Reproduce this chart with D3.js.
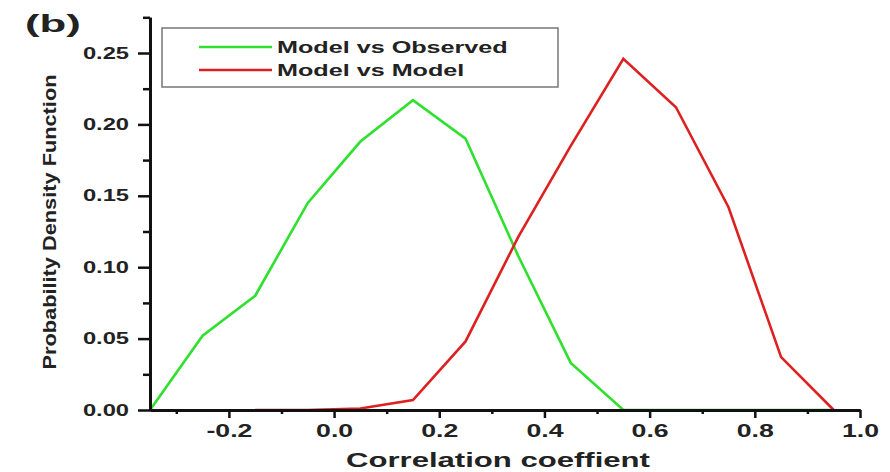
<!DOCTYPE html>
<html>
<head>
<meta charset="utf-8">
<script src="https://cdn.jsdelivr.net/npm/d3@7"></script>
<style>
  body { margin: 0; background: #fff; }
  text { font-family: "Liberation Sans", Arial, sans-serif; font-weight: bold; fill: #222; }
</style>
</head>
<body>
<svg id="chart"></svg>
<script>
// data
const xBins = [-0.35, -0.25, -0.15, -0.05, 0.05, 0.15, 0.25, 0.35, 0.45, 0.55, 0.65, 0.75, 0.85, 0.95];
const obsPdf = [0, 0.052, 0.080, 0.145, 0.188, 0.217, 0.190, 0.108, 0.033, 0, 0, 0, 0, 0];
const modelBins = [-0.15, -0.05, 0.05, 0.15, 0.25, 0.35, 0.45, 0.55, 0.65, 0.75, 0.85, 0.95];
const modelPdf = [0, 0, 0.001, 0.007, 0.048, 0.121, 0.185, 0.246, 0.212, 0.142, 0.037, 0];
const xMajor = [-0.2, 0.0, 0.2, 0.4, 0.6, 0.8, 1.0];
const xMinor = [-0.3, -0.1, 0.1, 0.3, 0.5, 0.7, 0.9];
const yMajor = [0, 0.05, 0.10, 0.15, 0.20, 0.25];
const yMinor = [0.025, 0.075, 0.125, 0.175, 0.225, 0.275];
const seriesNames = ["Model vs Observed", "Model vs Model"];
const seriesColors = ["#2fe02f", "#dd2020"];

const width = 890, height = 472;
const svg = d3.select("#chart").attr("width", width).attr("height", height);

const x = d3.scaleLinear().domain([-0.35, 1.0]).range([150, 860]);
const y = d3.scaleLinear().domain([0, 0.25]).range([410, 53]);

// the source image is stretched sideways, so widen text to match
const K = 1.48;
function stretch(sel, k) {
  sel.each(function () {
    const len = this.getComputedTextLength();
    d3.select(this).attr("textLength", len * k).attr("lengthAdjust", "spacingAndGlyphs");
  });
}

// curves
const line = d3.line().x(d => x(d[0])).y(d => y(d[1]));
svg.append("path")
    .datum(xBins.map((v, i) => [v, obsPdf[i]]))
    .attr("d", line)
    .attr("fill", "none").attr("stroke", seriesColors[0]).attr("stroke-width", 2.6);
svg.append("path")
    .datum(modelBins.map((v, i) => [v, modelPdf[i]]))
    .attr("d", line)
    .attr("fill", "none").attr("stroke", seriesColors[1]).attr("stroke-width", 2.6);

// x axis
const xAxis = svg.append("g").attr("transform", "translate(0,410)");
xAxis.append("g")
    .call(d3.axisBottom(x).tickValues(xMinor).tickSize(4).tickSizeOuter(0).tickFormat(""));
xAxis.append("g")
    .call(d3.axisBottom(x).tickValues(xMajor).tickSize(8).tickSizeOuter(0).tickPadding(6).tickFormat(d => d.toFixed(1)));
xAxis.selectAll("text").style("font-size", "18px").attr("fill", "#333")
    .call(stretch, K);

// y axis
const yAxis = svg.append("g").attr("transform", "translate(150,0)");
const yFull = y.copy().domain([0, 0.275]).range([410, y(0.275)]);
yAxis.append("g")
    .call(d3.axisLeft(yFull).tickValues(yMinor).tickSize(7).tickSizeOuter(0).tickFormat(""));
yAxis.append("g")
    .call(d3.axisLeft(yFull).tickValues(yMajor).tickSize(12).tickSizeOuter(0).tickPadding(9).tickFormat(d3.format(".2f")));
yAxis.selectAll("text").style("font-size", "16px").attr("fill", "#333")
    .call(stretch, K);

svg.selectAll(".domain").attr("stroke", "#111").attr("stroke-width", 3);
svg.selectAll(".tick line").attr("stroke", "#111").attr("stroke-width", 2.5);

// axis titles
svg.append("text")
    .attr("x", 498).attr("y", 467)
    .attr("text-anchor", "middle")
    .style("font-size", "21px")
    .text("Correlation coeffient")
    .call(stretch, K);

svg.append("text")
    .attr("transform", "translate(56,222) rotate(-90)")
    .attr("text-anchor", "middle")
    .style("font-size", "18px")
    .attr("textLength", 295).attr("lengthAdjust", "spacingAndGlyphs")
    .text("Probability Density Function");

// panel letter
svg.append("text")
    .attr("x", 25).attr("y", 32)
    .style("font-size", "23px")
    .attr("fill", "#111")
    .text("(b)")
    .call(stretch, 1.9);

// legend
const legend = svg.append("g");
legend.append("rect")
    .attr("x", 162).attr("y", 28).attr("width", 396).attr("height", 59)
    .attr("fill", "#fff").attr("stroke", "#777").attr("stroke-width", 1.5);
const legY = [47, 70];
seriesNames.forEach((name, i) => {
  legend.append("line")
      .attr("x1", 199).attr("x2", 272).attr("y1", legY[i]).attr("y2", legY[i])
      .attr("stroke", seriesColors[i]).attr("stroke-width", 2.6);
  legend.append("text")
      .attr("x", 277).attr("y", legY[i] + 6)
      .style("font-size", "17px")
      .text(name)
      .call(stretch, K);
});
</script>
</body>
</html>
